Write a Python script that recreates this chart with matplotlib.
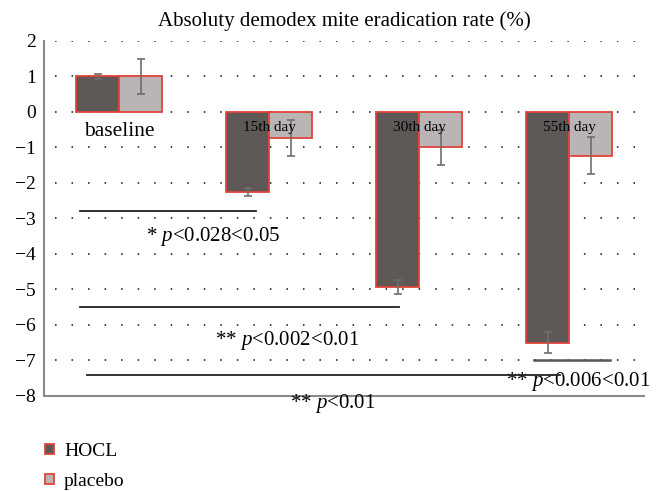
import matplotlib
matplotlib.use("Agg")
import matplotlib.pyplot as plt
from matplotlib.patches import Patch
import numpy as np

plt.rcParams['font.family'] = ['Liberation Serif', 'DejaVu Serif']
plt.rcParams['mathtext.fontset'] = 'custom'
plt.rcParams['mathtext.rm'] = 'Liberation Serif'
plt.rcParams['mathtext.it'] = 'Liberation Serif:italic'

categories = ["baseline", "15th day", "30th day", "55th day"]
hocl = [1.0, -2.25, -4.92, -6.5]
hocl_err = [0.06, 0.12, 0.2, 0.3]
placebo = [1.0, -0.73, -1.0, -1.23]
placebo_err = [0.5, 0.51, 0.48, 0.52]
yticks = [2, 1, 0, -1, -2, -3, -4, -5, -6, -7, -8]

fig = plt.figure(figsize=(6.58, 4.91), dpi=100)
ax = fig.add_axes([0.0669, 0.1935, 0.912, 0.723])

x = np.arange(len(categories))
w = 0.287
red = "#e0433a"
ax.bar(x - w/2, hocl, w, color="#5e5957", edgecolor=red, linewidth=1.3, zorder=2)
ax.bar(x + w/2, placebo, w, color="#bab5b4", edgecolor=red, linewidth=1.3, zorder=2)
ax.errorbar(x - w/2, hocl, yerr=hocl_err, fmt="none", ecolor="#6e6e6e",
            elinewidth=1.2, capsize=3, capthick=1.2, zorder=3)
ax.errorbar(x + w/2, placebo, yerr=placebo_err, fmt="none", ecolor="#6e6e6e",
            elinewidth=1.2, capsize=3, capthick=1.2, zorder=3)

ax.set_xlim(-0.5, 3.5)
ax.set_ylim(-8, 2)
ax.set_yticks(yticks)
ax.set_yticklabels([f"{t}".replace("-", "\u2212") for t in yticks], fontsize=14)
ax.set_xticks([])
ax.tick_params(axis="y", length=0, pad=6)
for t in yticks[:-1]:
    ax.axhline(t, xmin=0.018, xmax=0.985, color="#444444", linewidth=1.4,
               linestyle=(0, (0.8, 7.7)), zorder=1)
for s in ["top", "right"]:
    ax.spines[s].set_visible(False)
ax.spines["left"].set_color("#8a8a8a")
ax.spines["left"].set_linewidth(1.5)
ax.spines["bottom"].set_color("#8a8a8a")
ax.spines["bottom"].set_linewidth(1.5)

ax.set_title("Absoluty demodex mite eradication rate (%)", fontsize=15, pad=11)

# category labels
ax.text(x[0], -0.55, categories[0], ha="center", va="center", fontsize=15.5, zorder=4)
for i in range(1, 4):
    ax.text(x[i], -0.43, categories[i], ha="center", va="center", fontsize=11, zorder=4)

# significance lines
ax.plot([-0.26, 0.913], [-2.79, -2.79], color="#222222", linewidth=1.3, zorder=4)
ax.plot([-0.26, 1.867], [-5.49, -5.49], color="#222222", linewidth=1.3, zorder=4)
ax.plot([-0.213, 2.94], [-7.4, -7.4], color="#222222", linewidth=1.3, zorder=4)
ax.plot([2.767, 3.273], [-7.0, -7.0], color="#555555", linewidth=1.8, zorder=4)

ax.text(0.627, -3.5, r"* $p$<0.028<0.05", ha="center", va="center", fontsize=15)
ax.text(1.12, -6.45, r"** $p$<0.002<0.01", ha="center", va="center", fontsize=15)
ax.text(3.06, -7.6, r"** $p$<0.006<0.01", ha="center", va="center", fontsize=15)
ax.text(1.427, -8.2, r"** $p$<0.01", ha="center", va="center", fontsize=15, clip_on=False)

handles = [Patch(facecolor="#5e5957", edgecolor=red, linewidth=1.3, label="HOCL"),
           Patch(facecolor="#bab5b4", edgecolor=red, linewidth=1.3, label="placebo")]
fig.legend(handles=handles, loc="upper left", bbox_to_anchor=(0.056, 0.113),
           frameon=False, fontsize=14, handlelength=0.5, handleheight=0.4,
           handletextpad=0.5, labelspacing=0.65, borderaxespad=0)

fig.savefig("out.png", dpi=100)
